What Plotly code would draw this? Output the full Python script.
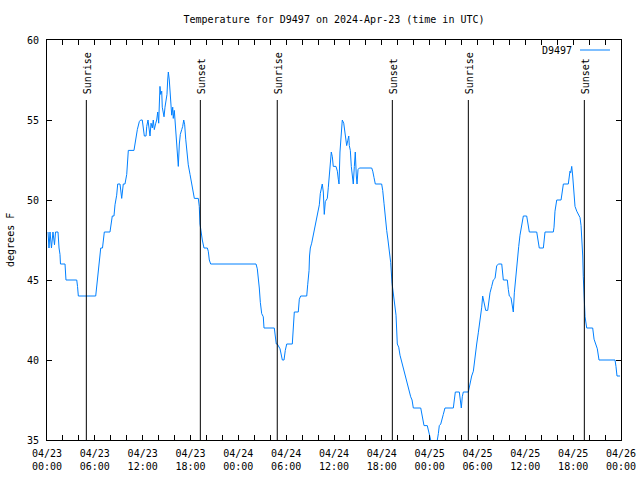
import pandas as pd
import plotly.graph_objects as go

# ---- data (hours since 2024-04-23 00:00 UTC, temperature in deg F) ----
start = "2024-04-23 00:00"
hours = [
    0.13, 0.25, 0.38, 0.56, 0.75, 0.94, 1.07, 1.38, 1.51, 1.63, 1.69, 2.26, 2.38, 3.73, 3.83, 3.93,
    6.11, 6.23, 6.44, 6.56, 6.74, 6.96, 7.06, 7.19, 7.90, 8.03, 8.19, 8.40, 8.53, 8.74, 8.87, 9.16,
    9.37, 9.57, 9.78, 10.00, 10.07, 10.20, 10.91, 11.04, 11.16, 11.33, 11.58, 11.75, 11.95, 12.08,
    12.21, 12.42, 12.51, 12.67, 12.80, 12.92, 13.05, 13.21, 13.33, 13.46, 13.64, 13.76, 13.89, 14.01,
    14.09, 14.17, 14.26, 14.39, 14.46, 14.59, 14.68, 14.80, 14.93, 15.05, 15.14, 15.22, 15.34, 15.43,
    15.52, 15.64, 15.77, 15.84, 15.97, 16.09, 16.27, 16.39, 16.47, 16.60, 16.72, 16.90, 17.02, 17.15,
    17.27, 17.40, 17.52, 17.72, 17.94, 18.15, 18.35, 18.48, 18.98, 19.10, 19.19, 19.32, 19.48, 19.69,
    20.11, 20.23, 20.36, 20.53, 26.22, 26.38, 26.51, 26.63, 26.76, 26.93, 27.13, 27.22, 28.51, 28.64,
    28.76, 28.89, 29.23, 29.52, 29.73, 29.89, 30.07, 30.77, 30.90, 31.02, 31.52, 31.65, 31.82, 32.58,
    32.70, 32.87, 32.93, 33.03, 33.20, 33.40, 33.53, 33.74, 33.91, 34.03, 34.16, 34.28, 34.41, 34.53,
    34.66, 34.78, 34.91, 35.04, 35.16, 35.29, 35.41, 35.54, 35.66, 35.79, 35.91, 36.25, 36.42, 36.54,
    36.63, 36.75, 36.88, 37.04, 37.22, 37.34, 37.47, 37.59, 37.72, 37.85, 37.92, 38.05, 38.17, 38.30,
    38.42, 38.55, 38.67, 38.80, 38.89, 39.01, 39.18, 40.73, 40.86, 41.02, 41.18, 41.98, 42.11, 42.27,
    42.44, 42.61, 42.77, 42.94, 43.11, 43.28, 43.44, 43.62, 43.78, 43.94, 44.12, 44.28, 44.44, 44.62,
    44.78, 44.95, 45.12, 45.28, 45.45, 45.62, 45.79, 45.95, 46.88, 47.00, 47.13, 47.29, 47.70, 47.83,
    47.96, 48.13, 48.48, 48.96, 49.09, 49.21, 49.39, 49.51, 49.71, 49.92, 50.97, 51.09, 51.22, 51.72,
    51.84, 51.97, 52.09, 52.22, 52.85, 53.06, 53.27, 53.48, 53.60, 53.73, 53.90, 54.10, 54.32, 54.53,
    54.65, 54.78, 54.90, 55.03, 55.28, 55.41, 55.57, 55.78, 55.98, 56.20, 56.41, 56.66, 57.04, 57.24,
    57.74, 57.87, 57.99, 58.20, 58.33, 58.49, 58.62, 58.79, 58.92, 59.04, 59.17, 59.33, 59.55, 59.75,
    60.17, 60.38, 60.50, 61.43, 61.55, 61.75, 62.26, 62.38, 62.47, 63.51, 63.60, 63.72, 63.94, 64.48,
    64.64, 64.77, 65.39, 65.52, 65.60, 65.69, 65.82, 65.94, 66.11, 66.23, 66.45, 66.65, 66.86, 66.99,
    67.11, 67.20, 67.27, 67.36, 67.49, 67.70, 68.45, 68.62, 68.83, 69.03, 69.24, 71.25, 71.37, 71.50,
    71.88,
]
temps = [
    48.0, 47.0, 48.0, 47.0, 48.0, 47.2, 48.0, 48.0, 47.0, 46.6, 46.0, 46.0, 45.0, 45.0, 44.6, 44.0,
    44.0, 44.6, 45.5, 46.5, 47.0, 47.0, 47.5, 48.0, 48.0, 48.5, 49.0, 49.0, 49.7, 50.3, 51.0, 51.0,
    50.1, 51.0, 51.0, 51.6, 52.3, 53.1, 53.1, 53.5, 54.0, 54.4, 54.9, 55.0, 55.0, 54.4,
    54.0, 54.0, 54.6, 55.0, 54.4, 54.0, 54.8, 54.5, 55.0, 54.4, 54.8, 55.0, 55.5, 54.8,
    56.0, 57.1, 56.6, 56.8, 55.8, 55.5, 55.2, 55.8, 56.2, 56.6, 57.5, 58.0, 57.5, 56.6,
    56.0, 55.3, 55.8, 55.1, 55.6, 54.8, 53.5, 52.6, 52.1, 53.5, 54.1, 54.4, 54.6, 55.0,
    54.7, 53.8, 53.0, 52.2, 51.6, 51.0, 50.6, 50.1, 50.1, 49.6, 48.5, 47.9, 47.5, 47.0,
    47.0, 46.8, 46.25, 46.0, 46.0, 45.7, 45.2, 44.5, 43.6, 42.9, 42.7, 42.0, 42.0, 41.5,
    41.0, 41.0, 40.7, 40.0, 40.0, 40.6, 41.0, 41.0, 42.0, 43.0, 43.0, 43.8, 44.0, 44.0,
    44.7, 45.6, 46.5, 47.0, 47.3, 47.8, 48.2, 48.7, 49.0, 49.3, 49.7, 50.4, 50.8, 51.0,
    50.5, 49.1, 49.9, 50.0, 50.1, 50.8, 51.5, 52.2, 53.0, 52.7, 52.1, 52.1, 51.8, 51.3,
    51.0, 53.0, 54.3, 55.0, 54.8, 54.3, 53.8, 53.4, 53.7, 54.0, 53.4, 53.1, 52.1, 51.5,
    51.0, 52.1, 53.0, 51.5, 51.0, 51.9, 52.0, 52.0, 51.8, 51.4, 51.0, 51.0, 50.6, 49.8,
    48.8, 48.1, 47.5, 46.9, 46.1, 44.8, 44.2, 43.6, 42.8, 41.0, 40.8, 40.3, 40.0, 39.6,
    39.2, 39.0, 38.6, 38.4, 38.1, 37.7, 37.5, 37.0, 37.0, 36.7, 36.3, 35.9, 35.9, 35.6,
    35.3, 35.0, 34.5, 35.0, 35.4, 35.9, 36.0, 36.3, 36.6, 37.0, 37.0, 37.5, 38.0, 38.0,
    37.5, 37.0, 37.7, 38.0, 38.0, 38.6, 39.0, 39.3, 39.9, 40.3, 41.0, 41.7, 42.4, 43.3,
    44.0, 43.7, 43.4, 43.1, 43.1, 43.6, 44.2, 44.6, 45.0, 45.1, 45.9, 46.0, 46.0, 45.0,
    45.0, 44.4, 44.0, 43.9, 43.4, 43.0, 44.2, 45.2, 45.7, 46.5, 47.1, 47.8, 48.4, 49.0,
    49.0, 48.5, 48.0, 48.0, 47.7, 47.0, 47.0, 47.5, 48.0, 48.0, 48.3, 49.3, 50.0, 50.0,
    50.5, 51.0, 51.0, 51.5, 51.8, 51.7, 52.1, 51.5, 50.0, 49.6, 49.3, 49.1, 48.9, 48.4,
    47.6, 46.5, 45.2, 43.75, 42.7, 42.0, 42.0, 41.3, 41.0, 40.7, 40.0, 40.0, 39.6, 39.0,
    39.0,
]

event_times = ["2024-04-23 04:56", "2024-04-23 19:14", "2024-04-24 04:53",
               "2024-04-24 19:19", "2024-04-25 04:51", "2024-04-25 19:24"]
event_labels = ["Sunrise", "Sunset", "Sunrise", "Sunset", "Sunrise", "Sunset"]

tick_times = ["2024-04-23 00:00", "2024-04-23 06:00", "2024-04-23 12:00", "2024-04-23 18:00",
              "2024-04-24 00:00", "2024-04-24 06:00", "2024-04-24 12:00", "2024-04-24 18:00",
              "2024-04-25 00:00", "2024-04-25 06:00", "2024-04-25 12:00", "2024-04-25 18:00",
              "2024-04-26 00:00"]
tick_labels = ["04/23<br>00:00", "04/23<br>06:00", "04/23<br>12:00", "04/23<br>18:00",
               "04/24<br>00:00", "04/24<br>06:00", "04/24<br>12:00", "04/24<br>18:00",
               "04/25<br>00:00", "04/25<br>06:00", "04/25<br>12:00", "04/25<br>18:00",
               "04/26<br>00:00"]

series_name = "D9497"
title = "Temperature for D9497 on 2024-Apr-23 (time in UTC)"
y_label = "degrees F"
y_min, y_max = 35, 60
event_line_top = 56.25

# ---- figure ----
FONT = "DejaVu Sans Mono, monospace"
LINE_COLOR = "rgb(0,128,255)"

times = pd.Timestamp(start) + pd.to_timedelta(hours, unit="h")
minor_times = [t.strftime("%Y-%m-%d %H:%M")
               for t in pd.date_range(tick_times[0], tick_times[-1], freq="2h")]

fig = go.Figure()
fig.add_trace(go.Scatter(x=times, y=temps, mode="lines", name=series_name,
                         line=dict(color=LINE_COLOR, width=1), showlegend=False,
                         hoverinfo="skip"))

for t, lab in zip(event_times, event_labels):
    fig.add_shape(type="line", xref="x", yref="y", x0=t, x1=t, y0=y_min, y1=event_line_top,
                  line=dict(color="black", width=1))
    fig.add_annotation(x=t, y=event_line_top, xref="x", yref="y", text=lab, textangle=-90,
                       showarrow=False, xanchor="center", yanchor="bottom", xshift=1, yshift=4,
                       font=dict(family=FONT, size=10, color="black"))

# legend (text then line sample, gnuplot style)
fig.add_annotation(x=0.918, y=0.975, xref="paper", yref="paper", text=series_name,
                   showarrow=False, xanchor="right", yanchor="middle",
                   font=dict(family=FONT, size=10, color="black"))
fig.add_shape(type="line", xref="paper", yref="paper", x0=0.9286, x1=0.9808, y0=0.975, y1=0.975,
              line=dict(color=LINE_COLOR, width=1))

# y-axis label
fig.add_annotation(x=-0.0645, y=0.5, xref="paper", yref="paper", text=y_label, textangle=-90,
                   showarrow=False, xanchor="center", yanchor="middle",
                   font=dict(family=FONT, size=10, color="black"))

fig.update_layout(
    width=640, height=480,
    margin=dict(l=47, r=19, t=40, b=40, autoexpand=False),
    paper_bgcolor="white", plot_bgcolor="white",
    font=dict(family=FONT, size=10, color="black"),
    title=dict(text=title, x=0.5, xref="paper", y=1 - 19 / 480, yref="container",
               xanchor="center", yanchor="middle", font=dict(family=FONT, size=10)),
)
fig.update_xaxes(
    type="date", range=["2024-04-23 00:00", "2024-04-26 00:00"],
    tickmode="array", tickvals=tick_times, ticktext=tick_labels,
    ticks="inside", ticklen=5, tickcolor="black",
    minor=dict(tickmode="array", tickvals=minor_times,
               ticks="inside", ticklen=5, tickcolor="black", showgrid=False),
    showline=True, linecolor="black", linewidth=1, mirror="ticks",
    showgrid=False, zeroline=False, ticklabelstandoff=4, automargin=False,
)
fig.update_yaxes(
    range=[y_min, y_max], dtick=5, tick0=35,
    ticks="inside", ticklen=5, tickcolor="black",
    showline=True, linecolor="black", linewidth=1, mirror="ticks",
    showgrid=False, zeroline=False, ticklabelstandoff=5, automargin=False,
)

fig.write_html("out.html", config={"displayModeBar": False},
               post_script="document.body.style.margin='0';")
